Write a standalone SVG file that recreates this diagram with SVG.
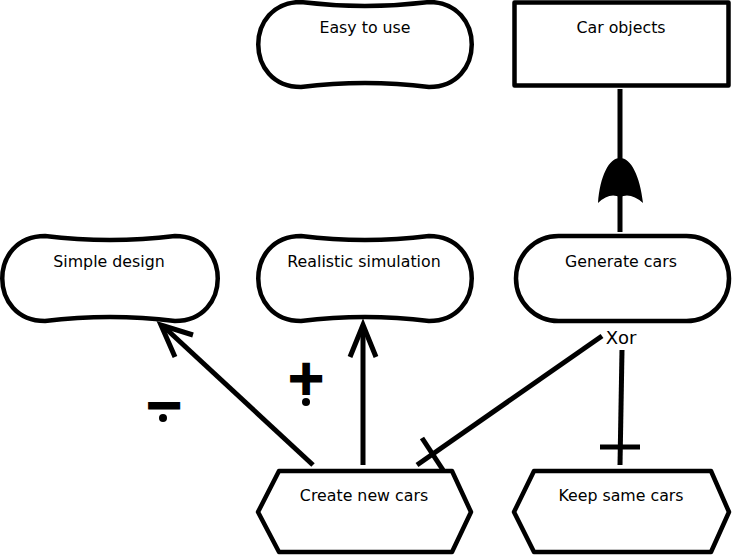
<svg xmlns="http://www.w3.org/2000/svg" width="732" height="557" viewBox="0 0 732 557">
<style>
.node{fill:#fff;stroke:#000;stroke-width:4.5;stroke-linejoin:round}
.lbl{font-family:"DejaVu Sans",Verdana,sans-serif;font-size:15.8px;fill:#000;text-anchor:middle}
.edge{fill:none;stroke:#000;stroke-width:5}
.sym{font-family:"DejaVu Sans",sans-serif;font-weight:bold;font-size:48px;fill:#000;stroke:#000;stroke-width:2;text-anchor:middle}
</style>
<rect width="732" height="557" fill="#fff"/>
<g id="node-easy">
<path class="node" d="M301,2 Q365,10 429,2 C486,2 486,87 429,87 Q365,79 301,87 C244,87 244,2 301,2 Z"/>
<text class="lbl" x="365" y="33">Easy to use</text>
</g>
<g id="node-carobjects">
<rect class="node" x="514.5" y="2.5" width="214" height="83" stroke-width="5"/>
<text class="lbl" x="621" y="33">Car objects</text>
</g>
<g id="node-simple">
<path class="node" d="M45,236 Q110,244 175,236 C232,236 232,321 175,321 Q110,313 45,321 C-12,321 -12,236 45,236 Z"/>
<text class="lbl" x="109" y="267">Simple design</text>
</g>
<g id="node-realistic">
<path class="node" d="M301,236 Q365,244 429,236 C486,236 486,321 429,321 Q365,313 301,321 C244,321 244,236 301,236 Z"/>
<text class="lbl" x="364" y="267">Realistic simulation</text>
</g>
<g id="node-generate">
<rect class="node" x="516" y="236" width="213" height="85" rx="42.5" ry="42.5"/>
<text class="lbl" x="621" y="267">Generate cars</text>
</g>
<g id="node-create">
<polygon class="node" stroke-width="5" points="258,512 279,471 452,471 471,512 452,552 279,552"/>
<text class="lbl" x="364" y="501">Create new cars</text>
</g>
<g id="node-keep">
<polygon class="node" stroke-width="5" points="514,512 534,471 711,471 729,512 711,552 534,552"/>
<text class="lbl" x="621" y="501">Keep same cars</text>
</g>
<g id="connectors">
<line class="edge" x1="620" y1="232" x2="620" y2="89"/>
<path d="M620,158 C631,158 640,176 643,203 Q631,192 620,197 Q609,192 598,203 C600,176 609,158 620,158 Z" fill="#000"/>
<line class="edge" x1="313" y1="465" x2="163" y2="326"/>
<polyline class="edge" points="175,357 161,325 193,335"/>
<line class="edge" x1="363" y1="465" x2="363" y2="327"/>
<polyline class="edge" points="350,357 363,325 376,357"/>
<line class="edge" x1="602" y1="336" x2="417" y2="465"/>
<line class="edge" x1="422" y1="438" x2="443" y2="470"/>
<line class="edge" x1="622" y1="350" x2="620" y2="465"/>
<line class="edge" x1="600" y1="447" x2="640" y2="447"/>
<text class="lbl" x="621" y="344" style="font-size:18px">Xor</text>
<text class="sym" x="306" y="394">+</text>
<circle cx="306" cy="402" r="4"/>
<text class="sym" x="164" y="421">−</text>
<circle cx="163" cy="418" r="4"/>
</g>
</svg>
